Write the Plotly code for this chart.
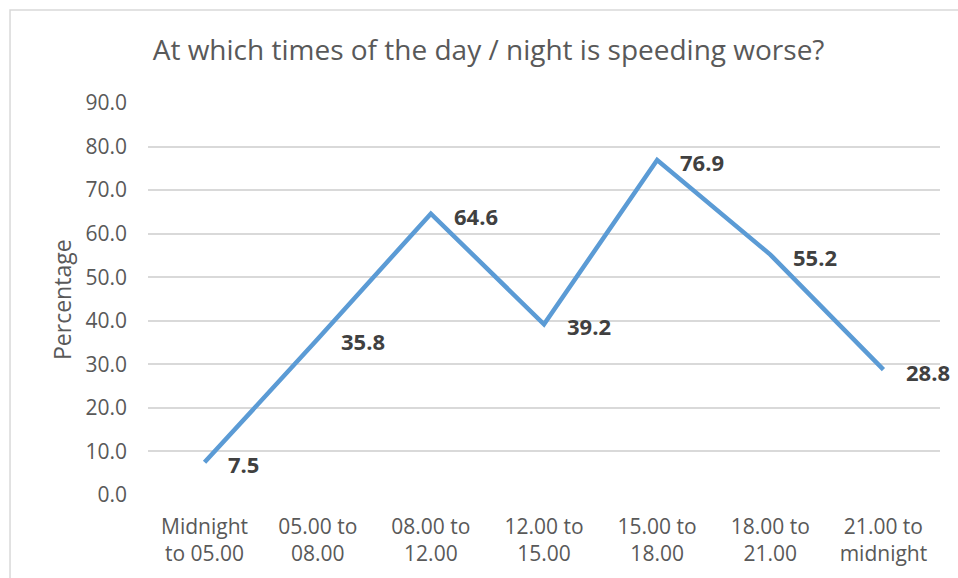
import plotly.graph_objects as go

# Share of respondents by time band
categories = [
    "Midnight<br>to 05.00",
    "05.00 to<br>08.00",
    "08.00 to<br>12.00",
    "12.00 to<br>15.00",
    "15.00 to<br>18.00",
    "18.00 to<br>21.00",
    "21.00 to<br>midnight",
]
percentages = [7.5, 35.8, 64.6, 39.2, 76.9, 55.2, 28.8]
y_ticks = [0, 10, 20, 30, 40, 50, 60, 70, 80, 90]

FONT = "'Open Sans', Lato, sans-serif"
GREY = "#595959"

fig = go.Figure()
fig.add_trace(
    go.Scatter(
        x=categories,
        y=percentages,
        mode="lines",
        line=dict(color="#5B9BD5", width=4.5),
        hoverinfo="x+y",
    )
)

# Value labels to the right of each point
for cat, val in zip(categories, percentages):
    fig.add_annotation(
        x=cat, y=val, text=f"<b>{val:.1f}</b>",
        showarrow=False, xanchor="left", yanchor="middle",
        xshift=21, yshift=-2,
        font=dict(family=FONT, size=22, color="#404040"),
    )

# Vertical axis title
fig.add_annotation(
    xref="paper", yref="paper", x=-0.1086, y=0.5,
    text="Percentage", textangle=-90, showarrow=False,
    xanchor="center", yanchor="middle",
    font=dict(family=FONT, size=23, color=GREY),
)

# Light outer frame of the chart
fig.add_shape(
    type="rect", xref="paper", yref="paper",
    x0=-0.1742, x1=1.2, y0=-0.3, y1=1.2372,
    line=dict(color="#D9D9D9", width=1.5), fillcolor="rgba(0,0,0,0)",
    layer="below",
)

fig.update_layout(
    width=958, height=578,
    margin=dict(l=148, r=18, t=103, b=83),
    paper_bgcolor="white", plot_bgcolor="white",
    showlegend=False,
    title=dict(
        text="At which times of the day / night is speeding worse?",
        x=0.51, xanchor="center", y=0.913, yanchor="middle",
        font=dict(family=FONT, size=28, color=GREY),
    ),
    font=dict(family=FONT, color=GREY),
)
fig.update_xaxes(
    type="category", range=[-0.5, 6.5],
    showgrid=False, showline=False, zeroline=False, ticks="",
    ticklabelstandoff=17,
    tickfont=dict(family=FONT, size=21, color=GREY),
)
fig.update_yaxes(
    range=[0, 90], tickvals=y_ticks,
    ticktext=[f"{v:.1f}" for v in y_ticks],
    showgrid=True, gridcolor="#D9D9D9", gridwidth=1.5,
    zeroline=False, showline=False, ticks="", ticklen=0,
    ticklabelstandoff=20,
    tickfont=dict(family=FONT, size=21, color=GREY),
)

fig.write_html("out.html")
